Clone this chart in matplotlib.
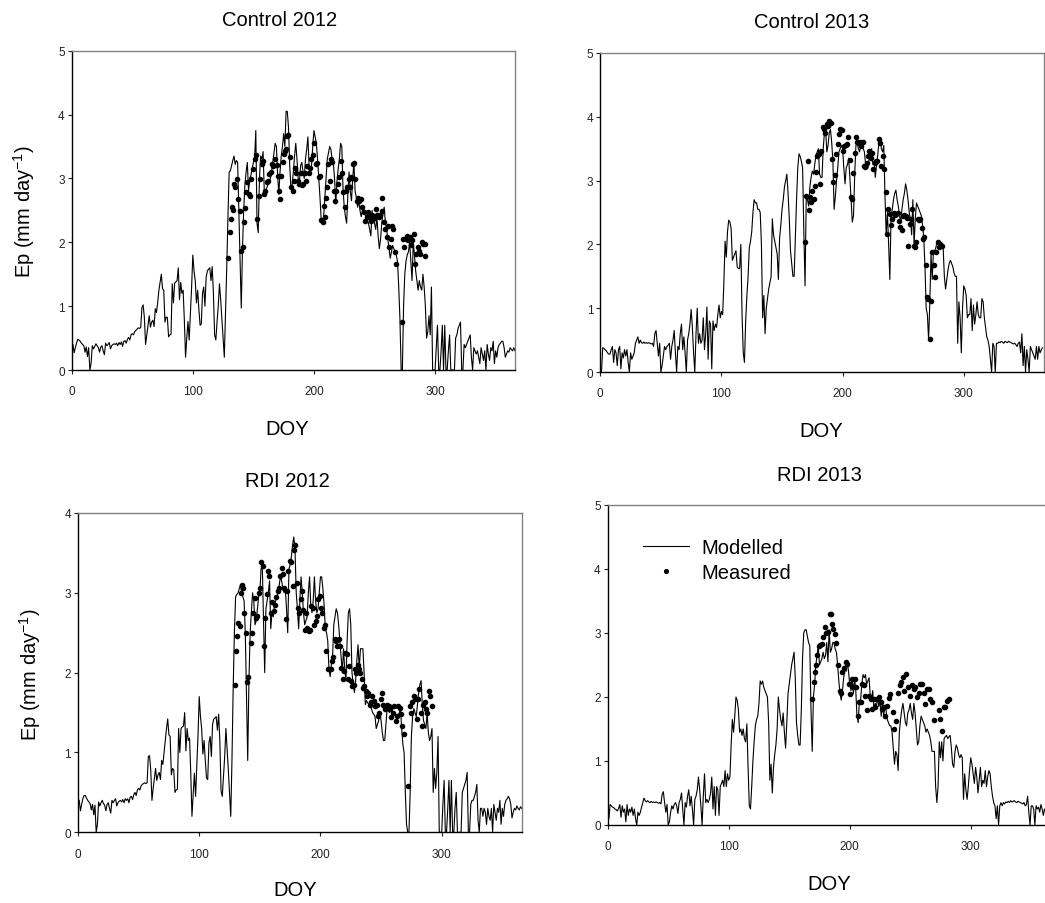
import matplotlib
matplotlib.use("Agg")
import matplotlib.pyplot as plt
import numpy as np

plt.rcParams["font.family"] = ["Liberation Sans", "DejaVu Sans"]
plt.rcParams["mathtext.default"] = "regular"

W, H = 1045, 904   # output size in pixels

# ── MODELLED Ep (one value per DOY, starting at DOY 1) ───────────────────────
ctrl12_model = [
    0.40, 0.27, 0.35, 0.42, 0.48, 0.47, 0.45, 0.42, 0.40, 0.38,
    0.28, 0.36, 0.21, 0.35, 0.00, 0.10, 0.38, 0.33, 0.37, 0.41,
    0.38, 0.35, 0.28, 0.36, 0.38, 0.30, 0.24, 0.42, 0.38, 0.40,
    0.43, 0.33, 0.38, 0.40, 0.41, 0.40, 0.42, 0.38, 0.43, 0.40,
    0.44, 0.37, 0.45, 0.46, 0.42, 0.48, 0.51, 0.47, 0.55, 0.57,
    0.55, 0.60, 0.62, 0.64, 0.66, 0.65, 0.67, 0.98, 1.02, 0.82,
    0.40, 0.55, 0.70, 0.85, 0.67, 0.75, 0.78, 0.68, 0.96, 0.90,
    1.06, 1.25, 1.38, 1.50, 1.27, 1.25, 0.75, 0.83, 0.82, 0.52,
    0.55, 0.56, 1.35, 1.05, 1.36, 1.38, 1.40, 1.60, 1.10, 1.37,
    1.20, 1.25, 0.78, 0.20, 0.50, 0.76, 0.47, 0.90, 1.30, 1.80,
    1.55, 1.40, 1.05, 1.25, 0.95, 0.70, 0.72, 1.20, 1.30, 1.00,
    1.45, 1.55, 1.58, 1.60, 1.40, 1.62, 1.20, 0.55, 0.47, 0.75,
    1.00, 1.35, 1.10, 0.80, 0.50, 0.20, 0.90, 1.60, 2.40, 3.10,
    3.12, 3.20, 3.28, 3.35, 3.22, 3.28, 3.25, 2.50, 1.70, 0.97,
    1.90, 2.50, 2.90, 3.10, 3.25, 2.80, 3.00, 3.05, 3.15, 3.25,
    3.30, 3.75, 2.30, 2.15, 3.00, 3.35, 3.30, 3.42, 2.80, 2.75,
    2.85, 2.90, 2.95, 3.00, 3.10, 3.25, 3.40, 3.55, 3.50, 3.05,
    2.75, 3.10, 3.35, 3.50, 3.70, 3.50, 4.05, 4.05, 3.80, 3.20,
    2.85, 2.90, 3.10, 3.35, 3.55, 3.30, 3.00, 2.95, 3.20, 3.25,
    3.10, 3.00, 3.30, 3.45, 3.65, 3.20, 3.05, 3.20, 3.50, 3.75,
    3.65, 3.55, 3.30, 3.00, 2.70, 2.35, 2.30, 2.40, 2.70, 3.00,
    3.30, 3.40, 3.50, 3.45, 3.30, 3.25, 3.00, 2.60, 2.95, 3.15,
    3.30, 3.55, 3.50, 2.85, 2.55, 2.40, 2.30, 2.75, 3.10, 2.80,
    2.65, 3.00, 3.25, 2.80, 2.70, 2.55, 2.65, 2.50, 2.40, 2.50,
    2.55, 2.45, 2.40, 2.35, 2.30, 2.20, 2.10, 2.50, 2.35, 2.30,
    2.20, 2.40, 2.10, 1.90, 2.05, 2.30, 2.45, 2.55, 2.30, 2.20,
    2.05, 1.90, 1.75, 1.85, 1.95, 1.90, 1.85, 1.80, 1.70, 1.30,
    0.80, 0.00, 0.00, 1.00, 1.50, 1.70, 1.80, 1.85, 2.00, 1.70,
    1.40, 2.00, 1.80, 1.55, 1.40, 1.25, 1.40, 1.30, 1.25, 1.50,
    1.30, 1.00, 0.50, 0.60, 0.85, 0.55, 1.30, 0.00, 0.00, 0.00,
    0.35, 0.70, 0.00, 0.00, 0.30, 0.70, 0.00, 0.70, 0.00, 0.00,
    0.30, 0.55, 0.00, 0.00, 0.00, 0.00, 0.50, 0.55, 0.65, 0.70,
    0.75, 0.00, 0.00, 0.40, 0.35, 0.40, 0.45, 0.50, 0.55, 0.20,
    0.00, 0.35, 0.30, 0.25, 0.30, 0.20, 0.10, 0.35, 0.25, 0.15,
    0.30, 0.00, 0.40, 0.25, 0.15, 0.35, 0.30, 0.45, 0.10, 0.30,
    0.20, 0.35, 0.40, 0.42, 0.45, 0.45, 0.35, 0.20, 0.25, 0.30,
    0.28, 0.35, 0.32, 0.30, 0.35, 0.30,
]

ctrl13_model = [
    0.00, 0.38, 0.37, 0.35, 0.33, 0.30, 0.28, 0.28, 0.35, 0.40,
    0.15, 0.35, 0.30, 0.10, 0.35, 0.40, 0.05, 0.30, 0.22, 0.35,
    0.25, 0.35, 0.15, 0.00, 0.30, 0.20, 0.25, 0.30, 0.45, 0.50,
    0.55, 0.45, 0.50, 0.46, 0.45, 0.47, 0.45, 0.46, 0.45, 0.46,
    0.45, 0.44, 0.45, 0.40, 0.60, 0.65, 0.45, 0.25, 0.45, 0.00,
    0.10, 0.25, 0.40, 0.35, 0.40, 0.42, 0.45, 0.20, 0.40, 0.50,
    0.65, 0.30, 0.00, 0.40, 0.35, 0.60, 0.75, 0.35, 0.55, 0.30,
    0.00, 0.50, 0.60, 0.75, 0.98, 0.70, 0.30, 0.00, 0.60, 1.00,
    0.45, 0.60, 0.45, 0.50, 0.85, 0.35, 0.60, 1.02, 0.20, 0.80,
    0.75, 0.05, 0.80, 0.65, 0.75, 0.70, 0.90, 1.05, 0.85, 0.95,
    0.90, 1.40, 2.05, 1.80, 2.20, 2.38, 2.35, 2.25, 1.75, 1.80,
    1.85, 1.90, 1.65, 1.62, 1.62, 2.00, 0.90, 0.30, 0.15, 0.80,
    1.20, 1.50, 1.95, 2.05, 2.20, 2.50, 2.70, 2.65, 2.65, 2.55,
    2.55, 2.50, 2.00, 0.85, 1.20, 0.60, 1.00, 1.15, 1.30, 1.40,
    1.50, 2.40, 2.15, 2.05, 1.95, 1.85, 1.45, 2.10, 2.30, 2.55,
    2.70, 2.90, 3.00, 3.10, 2.80, 2.40, 1.90, 1.70, 1.50, 1.50,
    2.10, 2.70, 3.20, 3.42, 3.38, 3.30, 3.20, 2.20, 1.35, 2.75,
    2.70, 2.60, 2.90, 3.05, 3.15, 3.10, 3.25, 3.40, 3.45, 3.50,
    3.10, 3.05, 3.05, 3.50, 3.75, 3.80, 3.45, 3.55, 3.75, 3.80,
    3.60, 3.30, 2.55, 2.75, 3.00, 3.20, 3.45, 3.50, 3.55, 3.50,
    3.20, 2.95, 3.20, 3.25, 3.35, 3.05, 2.70, 2.35, 2.45, 3.10,
    3.55, 3.60, 3.50, 3.45, 3.55, 3.60, 3.50, 3.45, 3.25, 3.25,
    3.20, 3.35, 3.45, 3.50, 3.25, 3.30, 3.05, 3.25, 3.40, 3.60,
    3.65, 3.50, 3.45, 3.55, 2.75, 2.15, 2.50, 2.00, 1.45, 2.45,
    2.55, 2.70, 2.80, 2.85, 2.70, 2.60, 2.45, 2.35, 2.55, 2.70,
    2.80, 2.95, 2.85, 2.70, 2.50, 2.40, 2.15, 2.70, 2.00, 2.40,
    2.65, 2.60, 2.55, 2.50, 2.45, 2.30, 2.10, 1.65, 1.00, 0.90,
    0.50, 1.10, 1.85, 1.45, 1.90, 1.90, 1.95, 2.05, 2.00, 1.95,
    1.95, 2.00, 1.95, 1.50, 1.30, 1.45, 1.60, 1.70, 1.75, 1.70,
    1.65, 1.55, 1.50, 1.50, 0.45, 1.10, 0.85, 0.30, 1.00, 1.35,
    1.30, 1.20, 0.85, 0.90, 0.90, 1.15, 0.65, 1.05, 0.75, 0.90,
    1.10, 0.90, 0.85, 0.85, 1.15, 1.10, 0.85, 0.70, 0.55, 0.50,
    0.40, 0.20, 0.00, 0.45, 0.40, 0.00, 0.45, 0.45, 0.47, 0.46,
    0.48, 0.47, 0.45, 0.48, 0.47, 0.46, 0.48, 0.47, 0.46, 0.45,
    0.44, 0.45, 0.43, 0.40, 0.45, 0.47, 0.30, 0.60, 0.10, 0.40,
    0.00, 0.35, 0.20, 0.00, 0.40, 0.35, 0.30, 0.25, 0.20, 0.40,
    0.20, 0.40, 0.30, 0.35, 0.38,
]

rdi12_model = [
    0.40, 0.27, 0.35, 0.42, 0.46, 0.46, 0.43, 0.40, 0.38, 0.36,
    0.28, 0.35, 0.22, 0.34, 0.00, 0.10, 0.38, 0.33, 0.37, 0.40,
    0.36, 0.34, 0.27, 0.35, 0.37, 0.30, 0.24, 0.40, 0.37, 0.40,
    0.42, 0.33, 0.37, 0.39, 0.40, 0.38, 0.41, 0.37, 0.42, 0.40,
    0.42, 0.37, 0.44, 0.45, 0.41, 0.47, 0.50, 0.46, 0.53, 0.55,
    0.53, 0.58, 0.60, 0.61, 0.62, 0.61, 0.62, 0.95, 0.96, 0.78,
    0.40, 0.55, 0.68, 0.80, 0.65, 0.72, 0.75, 0.66, 0.90, 0.85,
    1.00, 1.15, 1.30, 1.42, 1.22, 1.20, 0.72, 0.80, 0.78, 0.50,
    0.53, 0.54, 1.30, 1.00, 1.30, 1.32, 1.33, 1.50, 1.02, 1.30,
    1.15, 1.18, 0.75, 0.20, 0.48, 0.74, 0.45, 0.85, 1.22, 1.70,
    1.45, 1.30, 0.98, 1.15, 0.90, 0.68, 0.66, 1.12, 1.20, 0.95,
    1.35, 1.42, 1.43, 1.45, 1.28, 1.48, 1.15, 0.52, 0.45, 0.70,
    0.95, 1.30, 1.05, 0.78, 0.50, 0.20, 0.90, 1.80, 2.50, 2.95,
    2.98, 3.00, 3.05, 3.10, 3.00, 2.95, 2.90, 2.50, 1.70, 0.90,
    1.90, 2.50, 2.75, 3.00, 2.90, 2.60, 2.65, 2.80, 2.95, 3.00,
    3.30, 3.35, 2.70, 2.00, 2.80, 2.90, 3.00, 3.15, 2.55, 2.75,
    2.70, 2.85, 2.90, 2.95, 3.00, 3.10, 3.20, 3.15, 3.05, 3.00,
    3.05, 2.80, 2.50, 3.30, 3.35, 3.45, 3.60, 3.70, 3.55, 3.00,
    2.80, 2.55, 2.90, 3.20, 3.00, 2.75, 2.60, 2.65, 2.70, 3.00,
    3.20, 2.85, 2.75, 2.90, 3.20, 2.90, 2.75, 2.80, 3.00, 3.20,
    3.20, 3.05, 2.85, 2.55, 2.50, 2.40, 2.05, 1.95, 2.10, 2.20,
    2.60, 2.70, 2.80, 2.75, 2.60, 2.40, 2.20, 2.00, 2.30, 2.05,
    1.90, 2.40, 2.75, 2.80, 2.60, 2.00, 1.85, 1.75, 1.90, 2.15,
    2.35, 2.05, 2.30, 2.30, 2.30, 2.00, 1.60, 1.65, 1.62, 1.60,
    1.58, 1.55, 1.50, 1.48, 1.45, 1.30, 1.35, 1.40, 1.50, 1.40,
    1.25, 1.15, 1.15, 1.35, 1.55, 1.52, 1.50, 1.55, 1.50, 1.45,
    1.50, 1.48, 1.45, 1.45, 1.50, 1.55, 1.30, 1.10, 1.00, 0.50,
    0.10, 0.00, 0.00, 0.50, 1.20, 1.45, 1.55, 1.50, 1.45, 1.60,
    1.75, 1.85, 1.90, 1.60, 1.40, 1.35, 1.30, 1.50, 1.25, 1.15,
    1.20, 1.30, 0.50, 0.80, 0.55, 0.75, 1.20, 0.00, 0.00, 0.00,
    0.35, 0.65, 0.00, 0.00, 0.30, 0.65, 0.00, 0.65, 0.00, 0.00,
    0.30, 0.50, 0.00, 0.00, 0.00, 0.00, 0.50, 0.55, 0.60, 0.65,
    0.75, 0.00, 0.00, 0.35, 0.40, 0.40, 0.45, 0.50, 0.60, 0.15,
    0.00, 0.30, 0.30, 0.20, 0.30, 0.25, 0.10, 0.30, 0.20, 0.15,
    0.30, 0.00, 0.35, 0.25, 0.15, 0.30, 0.25, 0.40, 0.10, 0.30,
    0.20, 0.35, 0.40, 0.42, 0.45, 0.42, 0.35, 0.18, 0.25, 0.30,
    0.28, 0.33, 0.30, 0.28, 0.32, 0.30,
]

rdi13_model = [
    0.10, 0.32, 0.30, 0.28, 0.27, 0.25, 0.24, 0.22, 0.26, 0.32,
    0.12, 0.30, 0.20, 0.25, 0.05, 0.32, 0.15, 0.25, 0.20, 0.28,
    0.15, 0.25, 0.10, 0.00, 0.20, 0.15, 0.20, 0.28, 0.35, 0.42,
    0.38, 0.36, 0.38, 0.36, 0.35, 0.37, 0.35, 0.36, 0.35, 0.36,
    0.35, 0.34, 0.35, 0.33, 0.48, 0.52, 0.35, 0.20, 0.32, 0.00,
    0.05, 0.20, 0.30, 0.25, 0.32, 0.35, 0.30, 0.18, 0.35, 0.40,
    0.50, 0.25, 0.00, 0.35, 0.28, 0.45, 0.55, 0.30, 0.45, 0.25,
    0.00, 0.40, 0.45, 0.55, 0.75, 0.55, 0.30, 0.00, 0.45, 0.80,
    0.35, 0.40, 0.35, 0.40, 0.50, 0.75, 0.25, 0.60, 0.15, 0.60,
    0.55, 0.15, 0.60, 0.65, 0.70, 0.60, 0.85, 0.60, 0.80, 0.70,
    0.75, 1.25, 1.65, 1.45, 1.70, 2.00, 1.95, 1.80, 1.45, 1.50,
    1.40, 1.50, 1.35, 1.30, 1.58, 0.90, 0.30, 0.25, 0.60, 1.00,
    1.30, 1.55, 1.65, 1.70, 1.90, 2.25, 2.20, 2.25, 2.15, 2.10,
    2.05, 2.00, 1.60, 0.70, 0.95, 0.50, 0.90, 1.10, 1.25, 1.50,
    2.00, 1.80, 1.65, 1.55, 1.75, 1.45, 1.20, 1.60, 2.05, 2.20,
    2.35, 2.50, 2.60, 2.70, 2.30, 1.60, 1.40, 1.25, 1.25, 1.80,
    2.60, 3.00, 3.05, 3.05, 2.95, 2.85, 2.80, 1.80, 1.15, 2.00,
    2.20, 2.50, 2.65, 2.80, 2.50, 2.55, 2.60, 2.70, 2.60, 2.65,
    2.85, 2.55, 3.05, 2.70, 2.75, 2.85, 2.85, 2.75, 2.70, 2.50,
    2.25, 2.05, 1.95, 2.10, 2.30, 2.45, 2.40, 2.55, 2.40, 2.20,
    2.10, 2.30, 2.05, 2.30, 2.10, 1.70, 1.60, 1.95, 1.95, 2.20,
    2.35, 2.30, 2.35, 2.20, 2.25, 2.30, 2.00, 1.95, 2.10, 1.80,
    1.90, 1.85, 2.00, 1.85, 1.95, 1.70, 1.95, 1.70, 1.85, 1.80,
    1.65, 1.60, 1.55, 1.55, 1.45, 1.20, 0.95, 1.15, 1.10, 0.85,
    1.45, 1.65, 1.80, 1.90, 1.75, 1.60, 1.55, 1.75, 1.80, 1.90,
    1.75, 1.65, 1.90, 1.75, 1.50, 1.25, 1.30, 1.55, 1.70, 1.65,
    1.60, 1.55, 1.45, 1.50, 1.45, 1.40, 1.30, 1.15, 1.15, 1.15,
    0.60, 0.35, 0.60, 1.30, 1.05, 1.30, 1.00, 1.35, 1.38, 1.40,
    1.35, 1.38, 1.40, 1.20, 0.95, 0.90, 1.15, 1.25, 1.20, 1.10,
    1.05, 1.10, 1.05, 0.40, 0.80, 0.55, 0.40, 0.60, 0.85, 1.05,
    0.95, 0.80, 0.65, 0.90, 0.75, 0.50, 0.70, 0.90, 0.60, 0.70,
    0.65, 0.85, 0.60, 0.75, 0.85, 0.80, 0.60, 0.45, 0.35, 0.30,
    0.10, 0.30, 0.00, 0.30, 0.35, 0.30, 0.35, 0.33, 0.36, 0.35,
    0.37, 0.35, 0.38, 0.36, 0.37, 0.38, 0.36, 0.35, 0.37, 0.36,
    0.35, 0.34, 0.33, 0.35, 0.30, 0.32, 0.45, 0.20, 0.00, 0.30,
    0.30, 0.25, 0.00, 0.30, 0.25, 0.28, 0.20, 0.32, 0.25, 0.15,
    0.25, 0.20, 0.30, 0.25, 0.20,
]

# ── MEASURED Ep (DOY, value) ─────────────────────────────────────────────────
ctrl12_meas_doy = [
    129.4, 130.6, 131.7, 132.5, 133.0, 133.6, 134.5, 136.1, 137.3, 138.7,
    139.5, 141.2, 142.3, 143.1, 144.0, 145.1, 146.2, 147.3, 148.2, 149.6,
    151.0, 152.1, 153.2, 154.3, 155.4, 156.8, 157.7, 158.5, 159.9, 161.0,
    162.1, 163.3, 164.4, 165.5, 166.6, 168.0, 169.1, 170.0, 171.1, 172.0,
    173.0, 174.2, 175.3, 176.4, 177.2, 177.8, 178.9, 180.0, 181.2, 182.3,
    183.4, 184.5, 185.6, 186.7, 187.9, 189.0, 190.1, 191.2, 192.3, 193.5,
    194.6, 195.7, 196.8, 197.9, 199.0, 200.2, 201.3, 202.4, 203.8, 204.9,
    206.0, 207.2, 208.3, 209.1, 210.2, 211.1, 211.9, 213.0, 214.2, 215.3,
    216.4, 217.5, 218.6, 219.7, 220.9, 222.0, 223.1, 224.2, 225.3, 226.4,
    227.6, 228.7, 229.8, 230.9, 232.0, 233.2, 234.3, 235.4, 236.5, 237.6,
    238.7, 239.9, 241.3, 242.4, 243.5, 244.6, 245.7, 246.9, 248.0, 249.1,
    250.2, 251.3, 252.4, 253.6, 254.7, 255.8, 256.6, 257.8, 258.9, 260.0,
    261.1, 262.2, 263.3, 264.5, 265.6, 266.7, 267.8, 272.3, 273.4, 274.5,
    275.7, 276.8, 277.9, 279.0, 280.1, 281.2, 282.4, 283.5, 284.6, 285.7,
    286.8, 287.9, 289.1, 290.2, 291.3, 292.1,
]
ctrl12_meas = [
    1.76, 2.16, 2.37, 2.55, 2.51, 2.91, 2.87, 2.99, 2.68, 2.49,
    1.87, 1.92, 2.32, 2.54, 2.79, 2.95, 2.76, 2.73, 2.99, 3.15,
    3.31, 3.36, 2.36, 2.73, 2.99, 3.23, 3.28, 2.76, 2.81, 2.95,
    2.96, 3.07, 3.10, 3.23, 3.20, 3.31, 3.21, 3.04, 2.81, 2.68,
    3.04, 3.26, 3.38, 3.43, 3.46, 3.67, 3.68, 3.33, 2.86, 2.81,
    2.96, 3.17, 3.09, 2.96, 2.91, 3.09, 2.89, 2.91, 3.09, 2.96,
    3.20, 3.09, 3.17, 3.30, 3.36, 3.56, 3.23, 3.24, 3.02, 3.04,
    2.35, 2.32, 2.57, 2.39, 2.70, 2.86, 3.23, 2.96, 3.30, 3.25,
    2.81, 2.65, 2.81, 2.91, 3.03, 3.28, 3.09, 2.78, 2.55, 2.81,
    2.86, 2.99, 2.86, 3.02, 3.23, 3.24, 2.99, 2.65, 2.70, 2.65,
    2.68, 2.55, 2.47, 2.34, 2.39, 2.47, 2.39, 2.34, 2.42, 2.36,
    2.39, 2.52, 2.43, 2.39, 2.42, 2.49, 2.69, 2.32, 2.21, 2.08,
    2.26, 1.92, 2.05, 2.26, 2.21, 1.84, 1.66, 0.75, 2.05, 1.92,
    2.05, 2.10, 2.03, 2.08, 1.95, 2.03, 2.13, 1.66, 1.82, 1.92,
    1.87, 1.82, 2.00, 1.97, 1.79, 1.97,
]

ctrl13_meas_doy = [
    168.7, 169.8, 171.2, 172.0, 173.1, 174.0, 175.1, 176.2, 177.3, 178.1,
    179.2, 180.3, 181.4, 182.5, 183.6, 184.7, 185.8, 186.9, 188.0, 189.1,
    190.2, 191.3, 192.4, 193.6, 194.7, 195.8, 196.9, 198.0, 199.1, 200.2,
    201.3, 202.4, 203.5, 204.6, 205.7, 206.8, 207.9, 209.0, 210.1, 211.2,
    212.3, 213.4, 214.5, 215.6, 216.7, 217.8, 218.9, 220.0, 221.1, 222.2,
    223.3, 224.4, 225.5, 226.6, 227.7, 228.8, 229.9, 231.0, 232.1, 233.2,
    234.4, 235.5, 236.6, 237.6, 238.8, 239.9, 241.0, 242.1, 243.2, 244.3,
    245.4, 246.5, 247.6, 248.7, 249.8, 250.9, 252.0, 253.1, 254.2, 255.3,
    256.4, 257.5, 258.6, 259.7, 260.8, 261.9, 263.0, 264.1, 265.2, 266.3,
    267.4, 268.5, 269.6, 270.7, 271.9, 273.0, 274.1, 275.2, 276.3, 277.4,
    278.5, 279.6, 280.7, 281.8,
]
ctrl13_meas = [
    2.03, 2.76, 3.30, 2.54, 2.75, 2.67, 2.84, 2.71, 2.92, 3.14,
    3.39, 3.42, 2.95, 3.47, 3.84, 3.81, 3.75, 3.88, 3.85, 3.94,
    3.91, 3.34, 2.98, 3.08, 3.42, 3.57, 3.73, 3.81, 3.80, 3.47,
    3.55, 3.56, 3.57, 3.68, 3.32, 2.74, 2.71, 3.12, 3.43, 3.68,
    3.60, 3.59, 3.60, 3.55, 3.60, 3.23, 3.21, 3.28, 3.39, 3.47,
    3.36, 3.44, 3.18, 3.28, 3.30, 3.31, 3.65, 3.59, 3.23, 3.39,
    3.18, 2.82, 2.16, 2.55, 2.48, 2.30, 2.40, 2.49, 2.46, 2.48,
    2.50, 2.36, 2.27, 2.22, 2.45, 2.46, 2.44, 2.42, 1.98, 2.32,
    2.40, 2.55, 1.97, 1.96, 2.04, 2.40, 2.39, 2.40, 2.25, 2.09,
    2.11, 1.67, 1.17, 1.15, 0.51, 1.12, 1.88, 1.68, 1.49, 1.88,
    2.03, 1.96, 2.01, 1.97,
]

rdi12_meas_doy = [
    129.4, 130.3, 131.4, 132.2, 133.4, 134.2, 135.3, 136.1, 137.3, 138.4,
    139.5, 140.6, 142.3, 143.4, 144.5, 145.7, 146.8, 147.9, 149.0, 150.1,
    151.2, 152.4, 153.5, 154.6, 155.7, 156.8, 157.9, 159.1, 160.2, 161.3,
    162.4, 163.5, 164.7, 165.8, 166.9, 168.0, 169.1, 170.3, 171.4, 172.5,
    173.6, 174.7, 175.8, 177.0, 178.1, 179.2, 180.3, 181.4, 182.6, 183.7,
    184.8, 185.9, 187.0, 188.1, 189.3, 190.4, 191.5, 192.6, 193.7, 194.9,
    196.0, 197.1, 198.2, 199.3, 200.5, 201.6, 202.7, 203.8, 204.9, 206.0,
    207.2, 208.3, 209.4, 210.5, 211.6, 212.7, 213.9, 215.0, 216.1, 217.2,
    218.3, 219.5, 220.6, 221.7, 222.8, 223.9, 225.0, 226.2, 227.3, 228.4,
    229.5, 230.6, 231.8, 232.9, 234.0, 235.1, 236.2, 237.3, 238.5, 239.6,
    240.7, 241.8, 242.9, 244.1, 245.2, 246.3, 247.4, 248.5, 249.6, 250.8,
    251.9, 253.0, 254.1, 255.2, 256.4, 257.5, 258.6, 259.7, 260.8, 261.9,
    263.1, 264.2, 265.3, 266.4, 267.5, 268.7, 272.6, 273.7, 274.8, 275.9,
    277.0, 278.2, 279.3, 280.4, 281.5, 282.6, 283.8, 284.9, 286.0, 287.1,
    288.2, 289.3, 290.4, 291.6,
]
rdi12_meas = [
    1.85, 2.27, 2.46, 2.62, 2.58, 3.00, 3.10, 3.06, 2.75, 2.50,
    1.88, 1.94, 2.37, 2.50, 2.75, 2.94, 2.69, 2.71, 3.00, 3.06,
    3.38, 3.33, 2.34, 2.69, 2.99, 3.27, 3.21, 2.75, 2.88, 2.77,
    2.85, 2.95, 3.02, 3.06, 3.21, 3.31, 3.23, 3.06, 2.67, 3.02,
    3.27, 3.40, 3.38, 3.08, 3.54, 3.60, 3.12, 2.81, 2.75, 2.92,
    3.02, 2.79, 2.54, 2.75, 2.56, 2.52, 2.54, 2.83, 2.81, 2.60,
    2.65, 2.71, 2.92, 2.96, 2.81, 2.75, 2.56, 2.60, 2.27, 2.04,
    2.04, 2.05, 2.15, 2.19, 2.42, 2.40, 2.33, 2.42, 2.33, 2.06,
    1.92, 2.02, 2.25, 2.23, 1.92, 2.08, 1.90, 1.83, 1.85, 2.04,
    2.00, 2.10, 2.04, 2.00, 1.92, 1.81, 1.83, 1.77, 1.71, 1.75,
    1.60, 1.63, 1.71, 1.65, 1.58, 1.60, 1.46, 1.50, 1.67, 1.75,
    1.60, 1.54, 1.56, 1.60, 1.58, 1.54, 1.44, 1.50, 1.58, 1.40,
    1.46, 1.58, 1.56, 1.48, 1.33, 1.23, 0.58, 1.58, 1.50, 1.63,
    1.71, 1.67, 1.42, 1.67, 1.79, 1.50, 1.33, 1.60, 1.63, 1.54,
    1.50, 1.77, 1.71, 1.58,
]

rdi13_meas_doy = [
    168.9, 170.2, 171.3, 172.2, 173.0, 174.4, 175.5, 177.1, 178.2, 179.3,
    180.7, 182.0, 184.0, 184.6, 185.0, 186.4, 187.6, 189.0, 190.7, 192.0,
    192.7, 194.0, 195.4, 196.8, 198.1, 199.5, 200.4, 201.5, 202.9, 204.3,
    205.4, 206.5, 207.9, 209.3, 210.2, 211.6, 213.0, 214.4, 215.8, 217.2,
    218.3, 219.7, 221.0, 222.4, 223.8, 225.9, 226.7, 228.1, 229.5, 230.9,
    232.2, 233.6, 235.5, 236.9, 238.6, 239.9, 241.3, 242.7, 243.8, 244.6,
    246.6, 248.2, 249.6, 251.5, 252.9, 254.3, 255.6, 257.0, 258.4, 259.8,
    261.2, 262.5, 263.9, 265.3, 266.7, 268.0, 269.4, 274.1, 274.9, 276.3,
    277.7, 279.1, 280.4, 281.8,
]
rdi13_meas = [
    1.97, 2.24, 2.39, 2.50, 2.65, 2.80, 2.82, 2.83, 2.93, 3.10,
    3.00, 3.02, 3.29, 3.30, 3.14, 3.06, 2.98, 2.84, 2.50, 2.10,
    2.07, 2.39, 2.46, 2.54, 2.52, 2.20, 2.05, 2.28, 2.15, 2.28,
    2.15, 1.71, 1.92, 1.92, 2.20, 2.18, 2.02, 1.80, 2.02, 1.97,
    1.81, 1.97, 1.84, 1.97, 2.00, 1.92, 1.81, 1.84, 1.71, 1.86,
    1.99, 2.05, 1.76, 1.50, 1.63, 2.07, 2.18, 2.23, 2.31, 2.10,
    2.36, 2.15, 2.02, 2.18, 2.13, 2.15, 2.00, 2.07, 2.20, 2.20,
    2.07, 1.89, 2.13, 2.13, 1.97, 1.92, 1.64, 1.80, 1.66, 1.47,
    1.84, 1.85, 1.94, 1.97,
]

X_TICKS = [0, 100, 200, 300]

# ── LAYOUT (pixel boxes: left, top, right, bottom) ───────────────────────────
PANELS = [
    # title, modelled, meas doy, meas, ymax, axes box, title xy, DOY xy, Ep xy
    ("Control 2012", ctrl12_model, ctrl12_meas_doy, ctrl12_meas, 5,
     (71.7, 51.7, 515.0, 371.0), (280, 26), (287, 435), (24, 212)),
    ("Control 2013", ctrl13_model, ctrl13_meas_doy, ctrl13_meas, 5,
     (600.3, 54.0, 1043.7, 373.0), (812, 28), (821, 437), None),
    ("RDI 2012", rdi12_model, rdi12_meas_doy, rdi12_meas, 4,
     (78.0, 514.0, 521.7, 833.3), (287, 487), (295, 896), (30, 675)),
    ("RDI 2013", rdi13_model, rdi13_meas_doy, rdi13_meas, 5,
     (607.7, 506.0, 1050.6, 826.0), (819, 481), (829, 890), None),
]

TITLE_SIZE = 14.5
LABEL_SIZE = 14.5
TICK_SIZE = 8.5


def fx(px):
    return px / W


def fy(py):
    return 1 - py / H


fig = plt.figure(figsize=(W / 100, H / 100), dpi=100)

for i, (title, model, mdoy, meas, ymax, box, tpos, dpos, epos) in enumerate(PANELS):
    l, t, r, b = box
    ax = fig.add_axes([fx(l), fy(b), (r - l) / W, (b - t) / H])

    doy = np.arange(1, len(model) + 1)
    ax.plot(doy, model, color="black", linewidth=0.8, label="Modelled", zorder=2)
    ax.plot(mdoy, meas, linestyle="none", marker="o", markersize=3.0,
            color="black", label="Measured", zorder=3)

    ax.set_xlim(0, 366)
    ax.set_ylim(0, ymax)
    ax.set_xticks(X_TICKS)
    ax.set_yticks(range(ymax + 1))
    for s in ("top", "right"):
        ax.spines[s].set_color("#808080")
    for s in ("left", "bottom"):
        ax.spines[s].set_color("black")
    for sp in ax.spines.values():
        sp.set_linewidth(1.0)
    ax.tick_params(direction="out", length=3, width=0.8,
                   labelsize=TICK_SIZE, colors="#222222")
    ax.tick_params(axis="x", pad=8)
    ax.tick_params(axis="y", pad=2)

    fig.text(fx(tpos[0]), fy(tpos[1]), title, ha="center", va="baseline",
             fontsize=TITLE_SIZE)
    fig.text(fx(dpos[0]), fy(dpos[1]), "DOY", ha="center", va="baseline",
             fontsize=LABEL_SIZE)
    if epos is not None:
        fig.text(fx(epos[0]), fy(epos[1]), "Ep (mm day$^{-1}$)", rotation=90,
                 ha="center", va="center", fontsize=LABEL_SIZE)

    if i == 3:
        ax.legend(frameon=False, loc="upper left", bbox_to_anchor=(0.08, 0.897),
                  fontsize=LABEL_SIZE, handlelength=2.3, handletextpad=0.6,
                  labelspacing=0.3, borderpad=0, borderaxespad=0,
                  markerscale=0.9)

fig.savefig("out.png", dpi=100)
